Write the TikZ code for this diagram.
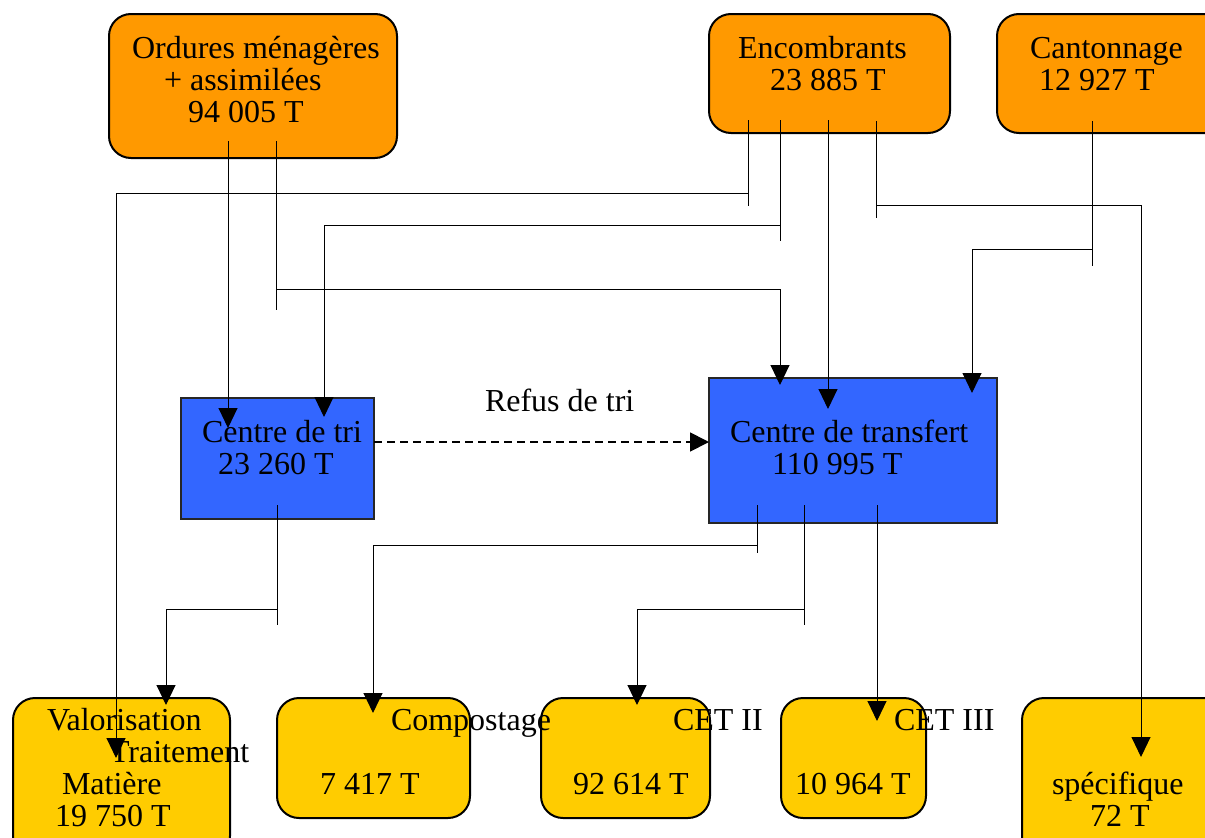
\documentclass[tikz,border=0pt]{standalone}
\usepackage{fontspec}
\setmainfont{Liberation Serif}
\usetikzlibrary{arrows.meta}
\definecolor{orangebox}{HTML}{FF9900}
\definecolor{yellowbox}{HTML}{FFCC00}
\definecolor{bluebox}{HTML}{3366FF}
\begin{document}
\begin{tikzpicture}[x=1pt,y=-1pt,
  every node/.style={inner sep=0pt, outer sep=0pt},
  txt/.style={anchor=base west, font=\fontsize{32}{32}\selectfont},
  boxbase/.style={anchor=north west, line width=2pt, draw=black, rounded corners=22pt},
  obox/.style={boxbase, fill=orangebox},
  ybox/.style={boxbase, fill=yellowbox},
  bbox/.style={anchor=north west, draw=black!85, line width=1.5pt, fill=bluebox},
  flow/.style={line width=1pt},
  arr/.style={flow, -{Triangle[length=20pt,width=19pt]}},
  dasharr/.style={line width=1.8pt, dash pattern=on 8pt off 5pt, -{Triangle[length=19pt,width=19pt]}},
]
\clip (0,0) rectangle (1205,838);
\fill[white] (0,0) rectangle (1205,838);

% ---- boxes ----
\node[obox, minimum width=288pt, minimum height=144pt] (om) at (109,14) {};
\node[obox, minimum width=241pt, minimum height=119pt] (enc) at (709,14) {};
\node[obox, minimum width=243pt, minimum height=119pt] (can) at (997,14) {};
\node[bbox, minimum width=193pt, minimum height=121pt] (tri) at (181,398) {};
\node[bbox, minimum width=288pt, minimum height=145pt] (trf) at (709,378) {};
\node[ybox, minimum width=217pt, minimum height=160pt] (val) at (13,698) {};
\node[ybox, minimum width=193pt, minimum height=120pt] (com) at (277,698) {};
\node[ybox, minimum width=169pt, minimum height=120pt] (cet2) at (541,698) {};
\node[ybox, minimum width=145pt, minimum height=120pt] (cet3) at (781,698) {};
\node[ybox, minimum width=238pt, minimum height=160pt] (spe) at (1022,698) {};

% ---- texts ----
\node[txt] (om-t1) at (132,58) {Ordures ménagères};
\node[txt] (om-t2) at (164,90) {+ assimilées};
\node[txt] (om-t3) at (188,122) {94 005 T};
\node[txt] (enc-t1) at (738,58) {Encombrants};
\node[txt] (enc-t2) at (770,90) {23 885 T};
\node[txt] (can-t1) at (1030,58) {Cantonnage};
\node[txt] (can-t2) at (1039,90) {12 927 T};
\node[txt] (tri-t1) at (202,442) {Centre de tri};
\node[txt] (tri-t2) at (218,474) {23 260 T};
\node[txt] (trf-t1) at (730,442) {Centre de transfert};
\node[txt] (trf-t2) at (772,474) {110 995 T};
\node[txt] (refus) at (485,411) {Refus de tri};
\node[txt] (val-t1) at (47,730) {Valorisation};
\node[txt] (val-t2) at (110,762) {Traitement};
\node[txt] (val-t3) at (62,794) {Matière};
\node[txt] (val-t4) at (55,826) {19 750 T};
\node[txt] (com-t1) at (391,730) {Compostage};
\node[txt] (com-t2) at (320,794) {7 417 T};
\node[txt] (cet2-t1) at (673,730) {CET II};
\node[txt] (cet2-t2) at (573,794) {92 614 T};
\node[txt] (cet3-t1) at (894,730) {CET III};
\node[txt] (cet3-t2) at (795,794) {10 964 T};
\node[txt] (spe-t1) at (1052,794) {spécifique};
\node[txt] (spe-t2) at (1090,826) {72 T};

% ---- connector points ----
\coordinate (om-a) at (228,141);  \coordinate (tri-in1) at (228,428);
\coordinate (om-b) at (276,141);  \coordinate (om-bs) at (276,310);
\coordinate (om-bj) at (276,289); \coordinate (trf-in1) at (780,385);
\coordinate (enc-a) at (748,120); \coordinate (enc-as) at (748,206);
\coordinate (enc-aj) at (748,193); \coordinate (val-in1) at (116,758);
\coordinate (enc-b) at (780,120); \coordinate (enc-bs) at (780,241);
\coordinate (enc-bj) at (780,225); \coordinate (tri-in2) at (324,417);
\coordinate (enc-c) at (828,120); \coordinate (trf-in2) at (828,409);
\coordinate (enc-d) at (876,121); \coordinate (enc-ds) at (876,218);
\coordinate (enc-dj) at (876,205); \coordinate (spe-in) at (1141,757);
\coordinate (can-a) at (1092,121); \coordinate (can-as) at (1092,266);
\coordinate (can-aj) at (1092,249); \coordinate (trf-in3) at (972,393);
\coordinate (tri-o) at (277,505); \coordinate (tri-os) at (277,625);
\coordinate (tri-oj) at (277,609); \coordinate (val-in2) at (166,705);
\coordinate (trf-a) at (757,505); \coordinate (trf-as) at (757,553);
\coordinate (trf-aj) at (757,545); \coordinate (com-in) at (373,713);
\coordinate (trf-b) at (804,505); \coordinate (trf-bs) at (804,625);
\coordinate (trf-bj) at (804,609); \coordinate (cet2-in) at (637,705);
\coordinate (trf-c) at (877,505); \coordinate (cet3-in) at (877,721);
\coordinate (tri-r) at (374,442); \coordinate (trf-l) at (709,442);

% ---- connectors ----
\draw[arr] (om-a) -- (tri-in1);
\draw[flow] (om-b) -- (om-bs);
\draw[arr] (om-bj) -| (trf-in1);
\draw[flow] (enc-a) -- (enc-as);
\draw[arr] (enc-aj) -| (val-in1);
\draw[flow] (enc-b) -- (enc-bs);
\draw[arr] (enc-bj) -| (tri-in2);
\draw[arr] (enc-c) -- (trf-in2);
\draw[flow] (enc-d) -- (enc-ds);
\draw[arr] (enc-dj) -| (spe-in);
\draw[flow] (can-a) -- (can-as);
\draw[arr] (can-aj) -| (trf-in3);
\draw[flow] (tri-o) -- (tri-os);
\draw[arr] (tri-oj) -| (val-in2);
\draw[flow] (trf-a) -- (trf-as);
\draw[arr] (trf-aj) -| (com-in);
\draw[flow] (trf-b) -- (trf-bs);
\draw[arr] (trf-bj) -| (cet2-in);
\draw[arr] (trf-c) -- (cet3-in);
\draw[dasharr] (tri-r) -- (trf-l);
\end{tikzpicture}
\end{document}
